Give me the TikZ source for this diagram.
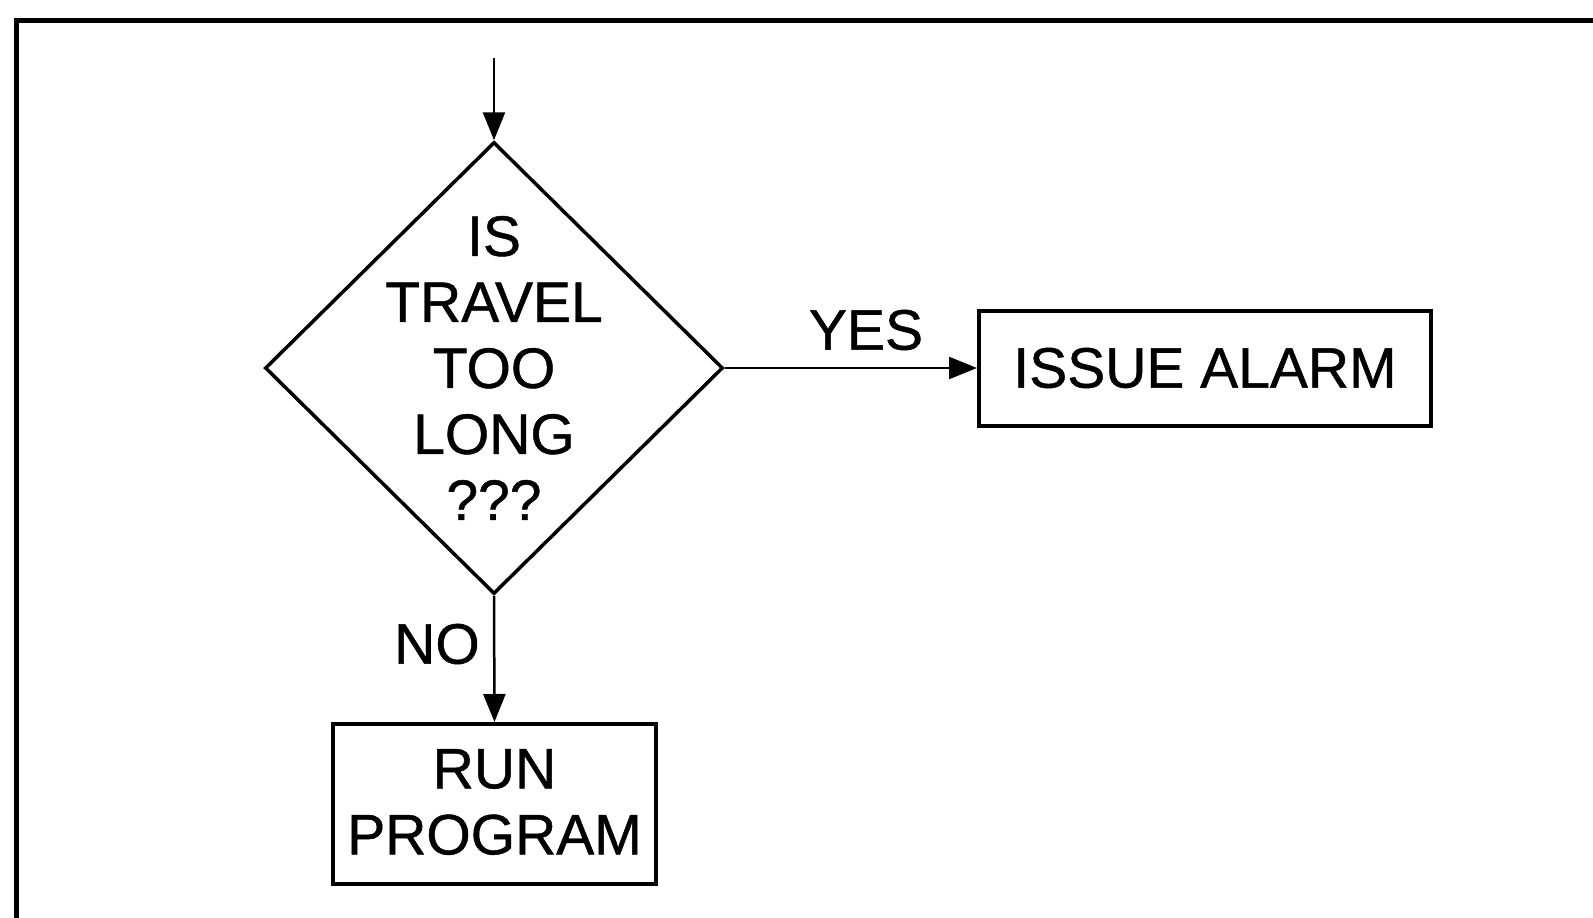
\documentclass[tikz,border=0pt]{standalone}
\usepackage{fontspec}
\setmainfont{Liberation Sans}
\newfontfamily\heavyreg[FakeBold=0.8]{Liberation Sans}
\usetikzlibrary{shapes.geometric,arrows.meta}
\begin{document}
\begin{tikzpicture}[x=1pt,y=-1pt,
  txt/.style={font=\heavyreg\fontsize{57}{66}\selectfont, align=center, inner sep=0pt},
  procbox/.style={draw, line width=4pt, inner sep=0pt},
  decis/.style={draw, diamond, line width=3.5pt, inner sep=0pt, minimum width=458pt, minimum height=452pt},
  conn/.style={line width=2.5pt, -{Triangle[length=28pt,width=22pt]}},
  frameline/.style={line width=5pt}]
\useasboundingbox (0,0) rectangle (1593,918);
% frame
\coordinate (fl) at (16,918);
\coordinate (ftl) at (16,20);
\coordinate (fr) at (1593,20);
\draw[frameline] (fl) -- (ftl) -- (fr);
% nodes
\node[decis] (d) at (494,368) {};
\node[txt] (dq) at (d.center) {IS\\TRAVEL\\TOO\\LONG\\???};
\node[procbox, minimum width=452pt, minimum height=115pt] (alarm) at (1205,368) {};
\node[txt] (alarmt) at (alarm.center) {ISSUE ALARM};
\node[procbox, minimum width=323pt, minimum height=160pt] (run) at (494.5,804) {};
\node[txt] (runt) at ([yshift=2pt]run.center) {RUN\\PROGRAM};
% connectors
\coordinate (start) at (494,58);
\draw[conn] (start) -- (d.north);
\draw[conn] (d.east) -- (alarm.west);
\draw[conn] (d.south) -- (run.north);
% labels
\node[txt] (yes) at (866,330) {YES};
\node[txt] (no) at (437,644) {NO};
\end{tikzpicture}
\end{document}
